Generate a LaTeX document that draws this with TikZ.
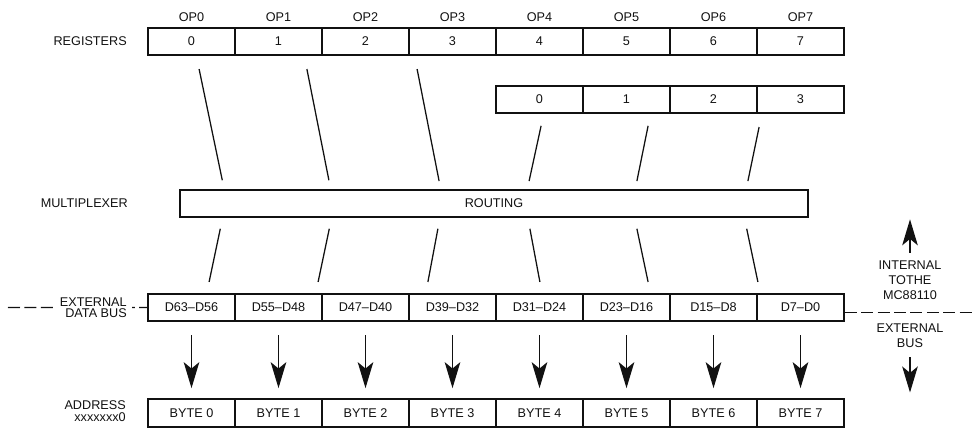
\documentclass[tikz,border=0pt]{standalone}
\usepackage{fontspec}
\setmainfont{Liberation Sans}
\usepackage{tikz}
\usetikzlibrary{arrows.meta}
\usepackage{xcolor}
\definecolor{Ink}{HTML}{111111}

\begin{document}
\begin{tikzpicture}[
    every node/.style={font=\fontsize{9}{10.5}\selectfont, text=Ink},
    cell/.style={draw=Ink, line width=1.2pt, minimum width=2.175cm, minimum height=0.675cm, inner sep=0pt},
    route/.style={Ink, line width=0.9pt},
    busarrow/.style={Ink, line width=0.9pt, -{Stealth[length=6.5mm, width=3.9mm, inset=1.6mm]}},
    busline/.style={Ink, line width=0.9pt, dash pattern=on 3mm off 1.1mm},
    sidelabel/.style={anchor=east, align=right, inner sep=0pt}
]
\useasboundingbox (0,0) rectangle (24.35,10.725);

% === REGISTERS ===
\node[sidelabel] (reglabel) at (3.175, 9.69) {REGISTERS};

\node[cell] (reg0) at (4.7875, 9.6875) {0};
\node[cell] (reg1) at (6.9625, 9.6875) {1};
\node[cell] (reg2) at (9.1375, 9.6875) {2};
\node[cell] (reg3) at (11.3125, 9.6875) {3};
\node[cell] (reg4) at (13.4875, 9.6875) {4};
\node[cell] (reg5) at (15.6625, 9.6875) {5};
\node[cell] (reg6) at (17.8375, 9.6875) {6};
\node[cell] (reg7) at (20.0125, 9.6875) {7};

% Operand labels
\node (op0) at (4.7875, 10.3) {OP0};
\node (op1) at (6.9625, 10.3) {OP1};
\node (op2) at (9.1375, 10.3) {OP2};
\node (op3) at (11.3125, 10.3) {OP3};
\node (op4) at (13.4875, 10.3) {OP4};
\node (op5) at (15.6625, 10.3) {OP5};
\node (op6) at (17.8375, 10.3) {OP6};
\node (op7) at (20.0125, 10.3) {OP7};

% Second row (upper half)
\node[cell] (low0) at (13.4875, 8.2375) {0};
\node[cell] (low1) at (15.6625, 8.2375) {1};
\node[cell] (low2) at (17.8375, 8.2375) {2};
\node[cell] (low3) at (20.0125, 8.2375) {3};

% === MULTIPLEXER ===
\node[sidelabel] (muxlabel) at (3.2, 5.64) {MULTIPLEXER};
\node[cell, minimum width=15.7cm] (mux) at (12.35, 5.6375) {ROUTING};

% Routing lines into the multiplexer
\draw[route] (reg0.south) ++(0.19,-0.33) -- ++(0.58,-2.78);
\draw[route] (reg1.south) ++(0.71,-0.33) -- ++(0.55,-2.78);
\draw[route] (reg2.south) ++(1.29,-0.33) -- ++(0.55,-2.8);
\draw[route] (low0.south) ++(0.04,-0.3) -- ++(-0.3,-1.38);
\draw[route] (low1.south) ++(0.54,-0.3) -- ++(-0.28,-1.38);
\draw[route] (low2.south) ++(1.14,-0.33) -- ++(-0.28,-1.35);

% === EXTERNAL DATA BUS ===
\node[cell] (bus0) at (4.7875, 3.0375) {D63--D56};
\node[cell] (bus1) at (6.9625, 3.0375) {D55--D48};
\node[cell] (bus2) at (9.1375, 3.0375) {D47--D40};
\node[cell] (bus3) at (11.3125, 3.0375) {D39--D32};
\node[cell] (bus4) at (13.4875, 3.0375) {D31--D24};
\node[cell] (bus5) at (15.6625, 3.0375) {D23--D16};
\node[cell] (bus6) at (17.8375, 3.0375) {D15--D8};
\node[cell] (bus7) at (20.0125, 3.0375) {D7--D0};

% Routing lines out of the multiplexer
\draw[route] (bus0.north) ++(0.44,0.28) -- ++(0.28,1.33);
\draw[route] (bus1.north) ++(0.99,0.28) -- ++(0.28,1.33);
\draw[route] (bus2.north) ++(1.56,0.28) -- ++(0.25,1.33);
\draw[route] (bus4.north) ++(0.01,0.28) -- ++(-0.25,1.33);
\draw[route] (bus5.north) ++(0.54,0.28) -- ++(-0.28,1.33);
\draw[route] (bus6.north) ++(1.11,0.28) -- ++(-0.28,1.33);

% Boundary of the processor
\draw[busline] (0.2, 3.04) -- (bus0.west);
\draw[busline] ([yshift=-0.12cm]bus7.east) -- ++(3.25,0);
\node[sidelabel, fill=white, inner xsep=0.125cm, font=\fontsize{9}{8}\selectfont] (buslabel) at (3.3, 3.04) {EXTERNAL\\DATA BUS};

% Internal / external side note
\node[align=center, inner sep=0pt] (internal) at (22.75, 3.725) {INTERNAL\\TOTHE\\MC88110};
\draw[busarrow] (internal.north) ++(0,0.2) -- ++(0,0.83);
\node[align=center, inner sep=0pt] (external) at (22.75, 2.34) {EXTERNAL\\BUS};
\draw[busarrow] (external.south) ++(0,-0.25) -- ++(0,-0.875);

% === MEMORY BYTES ===
\node[sidelabel, font=\fontsize{9}{8.5}\selectfont] (addrlabel) at (3.15, 0.45) {ADDRESS\\xxxxxxx0};

\node[cell, minimum height=0.7cm] (byte0) at (4.7875, 0.4) {BYTE 0};
\node[cell, minimum height=0.7cm] (byte1) at (6.9625, 0.4) {BYTE 1};
\node[cell, minimum height=0.7cm] (byte2) at (9.1375, 0.4) {BYTE 2};
\node[cell, minimum height=0.7cm] (byte3) at (11.3125, 0.4) {BYTE 3};
\node[cell, minimum height=0.7cm] (byte4) at (13.4875, 0.4) {BYTE 4};
\node[cell, minimum height=0.7cm] (byte5) at (15.6625, 0.4) {BYTE 5};
\node[cell, minimum height=0.7cm] (byte6) at (17.8375, 0.4) {BYTE 6};
\node[cell, minimum height=0.7cm] (byte7) at (20.0125, 0.4) {BYTE 7};

% Bus lanes to memory
\draw[busarrow, shorten <=0.33cm, shorten >=0.25cm] (bus0) -- (byte0);
\draw[busarrow, shorten <=0.33cm, shorten >=0.25cm] (bus1) -- (byte1);
\draw[busarrow, shorten <=0.33cm, shorten >=0.25cm] (bus2) -- (byte2);
\draw[busarrow, shorten <=0.33cm, shorten >=0.25cm] (bus3) -- (byte3);
\draw[busarrow, shorten <=0.33cm, shorten >=0.25cm] (bus4) -- (byte4);
\draw[busarrow, shorten <=0.33cm, shorten >=0.25cm] (bus5) -- (byte5);
\draw[busarrow, shorten <=0.33cm, shorten >=0.25cm] (bus6) -- (byte6);
\draw[busarrow, shorten <=0.33cm, shorten >=0.25cm] (bus7) -- (byte7);

\end{tikzpicture}
\end{document}
